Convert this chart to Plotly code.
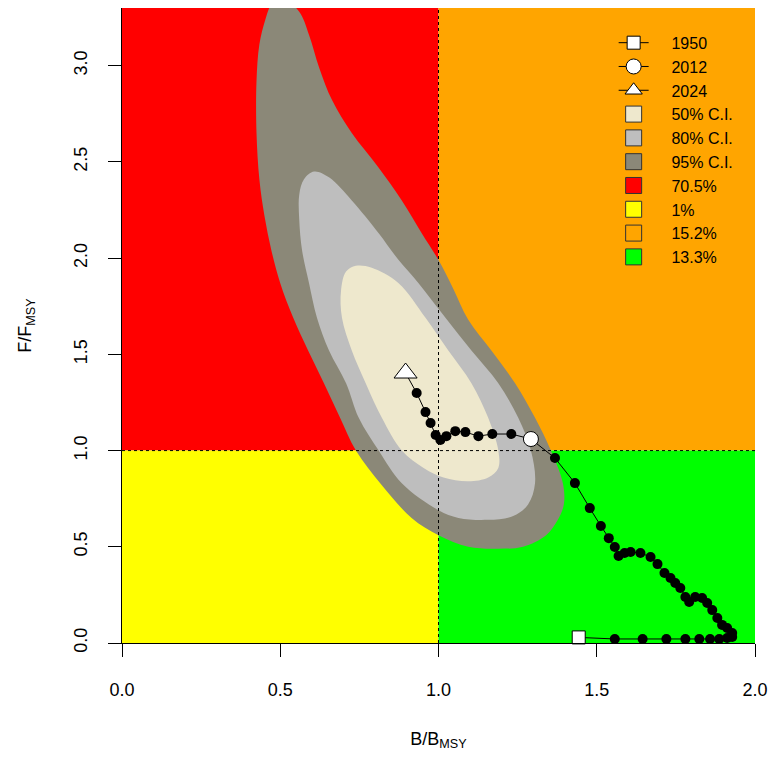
import plotly.graph_objects as go

# ---------------- data ----------------
# Stock trajectory (B/BMSY, F/FMSY), 1950 -> 2024
traj_b = [1.443, 1.557, 1.645, 1.720, 1.780, 1.824, 1.858, 1.887, 1.912, 1.928,
          1.928, 1.912, 1.896, 1.881, 1.865, 1.849, 1.833, 1.811, 1.792, 1.780,
          1.764, 1.748, 1.733, 1.714, 1.692, 1.670, 1.638, 1.607, 1.588, 1.569,
          1.557, 1.538, 1.513, 1.478, 1.431, 1.368, 1.292,
          1.230, 1.170, 1.126, 1.085, 1.053, 1.025, 1.006, 0.991, 0.975, 0.959,
          0.931, 0.896]
traj_f = [0.029, 0.021, 0.021, 0.021, 0.021, 0.021, 0.021, 0.021, 0.026, 0.031,
          0.052, 0.078, 0.094, 0.130, 0.171, 0.208, 0.234, 0.239, 0.213, 0.239,
          0.286, 0.312, 0.338, 0.364, 0.410, 0.447, 0.468, 0.473, 0.468, 0.452,
          0.499, 0.545, 0.608, 0.701, 0.831, 0.961, 1.060,
          1.086, 1.086, 1.075, 1.096, 1.101, 1.075, 1.055, 1.081, 1.143, 1.200,
          1.299, 1.403]
year_labels = ["1950", "2012", "2024"]
idx_2012 = 36

# Confidence-region outlines
ci95_b = [0.503, 0.560, 0.591, 0.623, 0.664, 0.726, 0.811, 0.884, 0.947, 1.000,
          1.047, 1.094, 1.167, 1.242, 1.305, 1.355, 1.393, 1.396, 1.377, 1.340,
          1.267, 1.189, 1.094, 1.000, 0.915, 0.821, 0.739, 0.689, 0.638, 0.588,
          0.541, 0.500, 0.472, 0.450, 0.434, 0.425, 0.425, 0.434, 0.453, 0.472]
ci95_f = [3.36, 3.28, 3.16, 2.99, 2.82, 2.65, 2.47, 2.30, 2.13, 1.99,
          1.84, 1.68, 1.52, 1.35, 1.17, 1.00, 0.83, 0.72, 0.64, 0.56,
          0.50, 0.49, 0.50, 0.56, 0.65, 0.82, 1.00, 1.17, 1.35, 1.52,
          1.69, 1.87, 2.04, 2.22, 2.41, 2.65, 2.92, 3.11, 3.24, 3.32]

ci80_b = [0.607, 0.654, 0.726, 0.811, 0.874, 0.937, 1.022, 1.104, 1.189, 1.252,
          1.292, 1.305, 1.283, 1.236, 1.157, 1.063, 1.000, 0.884, 0.811, 0.748,
          0.708, 0.654, 0.616, 0.591, 0.569, 0.560, 0.560, 0.575]
ci80_f = [2.45, 2.42, 2.30, 2.13, 1.99, 1.87, 1.69, 1.52, 1.35, 1.17,
          1.00, 0.83, 0.72, 0.66, 0.64, 0.65, 0.69, 0.83, 1.00, 1.17,
          1.35, 1.52, 1.69, 1.87, 2.04, 2.20, 2.33, 2.41]

ci50_b = [0.739, 0.789, 0.874, 0.959, 1.031, 1.104, 1.157, 1.189, 1.189, 1.157,
          1.094, 1.016, 0.953, 0.884, 0.821, 0.770, 0.726, 0.695, 0.692, 0.708]
ci50_f = [1.96, 1.95, 1.87, 1.69, 1.52, 1.35, 1.17, 1.00, 0.91, 0.86,
          0.84, 0.86, 0.91, 1.00, 1.17, 1.35, 1.52, 1.69, 1.83, 1.93]

ci_labels = ["50% C.I.", "80% C.I.", "95% C.I."]
quad_labels = ["70.5%", "1%", "15.2%", "13.3%"]   # red, yellow, orange, green

x_ticks = [0.0, 0.5, 1.0, 1.5, 2.0]
y_ticks = [0.0, 0.5, 1.0, 1.5, 2.0, 2.5, 3.0]
B_REF, F_REF = 1.0, 1.0
X_MAX, Y_MAX = 2.0, 3.3

# ---------------- styles ----------------
RED, YELLOW, ORANGE, GREEN = "#FF0000", "#FFFF00", "#FFA500", "#00FF00"
C50, C80, C95 = "#EEE8CD", "#BEBEBE", "#8B8878"
FONT = "Liberation Sans, Arial, sans-serif"
PAD = "\u00a0\u00a0\u00a0\u00a0"   # gap between legend symbol and text

fig = go.Figure()

# quadrants as background shapes
quads = [
    (0, B_REF, F_REF, Y_MAX, RED),
    (0, B_REF, 0, F_REF, YELLOW),
    (B_REF, X_MAX, F_REF, Y_MAX, ORANGE),
    (B_REF, X_MAX, 0, F_REF, GREEN),
]
for x0, x1, y0, y1, col in quads:
    fig.add_shape(type="rect", xref="x", yref="y", x0=x0, x1=x1, y0=y0, y1=y1,
                  fillcolor=col, line_width=0, layer="below")

# confidence regions
for bx, fy, col in [(ci95_b, ci95_f, C95), (ci80_b, ci80_f, C80), (ci50_b, ci50_f, C50)]:
    fig.add_trace(go.Scatter(x=bx + [bx[0]], y=fy + [fy[0]], mode="lines",
                             fill="toself", fillcolor=col,
                             line=dict(width=0, shape="spline", smoothing=1.0, color=col),
                             showlegend=False, hoverinfo="skip"))

# reference dotted lines
fig.add_trace(go.Scatter(x=[B_REF, B_REF], y=[0, Y_MAX], mode="lines",
                         line=dict(color="black", width=1, dash="dot"),
                         showlegend=False, hoverinfo="skip"))
fig.add_trace(go.Scatter(x=[0, X_MAX], y=[F_REF, F_REF], mode="lines",
                         line=dict(color="black", width=1, dash="dot"),
                         showlegend=False, hoverinfo="skip"))

# trajectory
fig.add_trace(go.Scatter(x=traj_b, y=traj_f, mode="lines+markers",
                         line=dict(color="black", width=1),
                         marker=dict(color="black", size=10),
                         showlegend=False, cliponaxis=False))

# highlighted years
sym = ["square", "circle", "triangle-up"]
sizes = [13, 15, 20]
idxs = [0, idx_2012, len(traj_b) - 1]
for i, (lab, s, sz, k) in enumerate(zip(year_labels, sym, sizes, idxs)):
    fig.add_trace(go.Scatter(x=[traj_b[k]], y=[traj_f[k]], mode="markers",
                             marker=dict(symbol=s, size=sz, color="white",
                                         line=dict(color="black", width=1)),
                             showlegend=False, cliponaxis=False))
    # legend entry
    fig.add_trace(go.Scatter(x=[None], y=[None], mode="lines+markers", name=PAD + lab,
                             line=dict(color="black", width=1),
                             marker=dict(symbol=s, size=min(sz, 15), color="white",
                                         line=dict(color="black", width=1)),
                             legendgroup=lab, legendrank=i + 1))

# legend boxes
box_cols = [C50, C80, C95, RED, YELLOW, ORANGE, GREEN]
box_sizes = [16, 16, 16, 20, 20, 20, 20]
for j, (lab, col, bs) in enumerate(zip(ci_labels + quad_labels, box_cols, box_sizes)):
    fig.add_trace(go.Scatter(x=[None], y=[None], mode="markers", name=PAD + lab,
                             marker=dict(symbol="square", size=bs, color=col,
                                         line=dict(color="#333333", width=1)),
                             legendgroup=lab, legendrank=10 + j))

axis_common = dict(showgrid=False, zeroline=False, showline=True, linecolor="black",
                   linewidth=1, ticks="outside", ticklen=13, tickcolor="black",
                   tickfont=dict(size=18, color="black", family=FONT))

fig.update_layout(
    width=776, height=758, autosize=False,
    margin=dict(l=122, r=18, t=8, b=115),
    paper_bgcolor="white", plot_bgcolor="white",
    font=dict(family=FONT, color="black"),
    showlegend=True,
    legend=dict(x=0.7767, y=0.972, xanchor="left", yanchor="top",
                bgcolor="rgba(0,0,0,0)", borderwidth=0,
                font=dict(size=16, color="black", family=FONT),
                tracegroupgap=0, itemwidth=30),
    xaxis=dict(range=[0, X_MAX], tickvals=x_ticks,
               ticktext=[f"{v:.1f}" for v in x_ticks], ticklabelstandoff=17,
               title=dict(text="B/B<sub>MSY</sub>", font=dict(size=18), standoff=33),
               **axis_common),
    yaxis=dict(range=[0, Y_MAX], tickvals=y_ticks,
               ticktext=[f"{v:.1f}" for v in y_ticks], tickangle=-90,
               ticklabelstandoff=14,
               title=dict(text="F/F<sub>MSY</sub>", font=dict(size=18), standoff=34),
               **axis_common),
)

# remove the default 8px page margin so the figure sits at the window origin
fig.write_html("out.html",
               config={"displayModeBar": False, "responsive": False},
               post_script="document.body.style.margin='0';document.body.style.overflow='hidden';")
